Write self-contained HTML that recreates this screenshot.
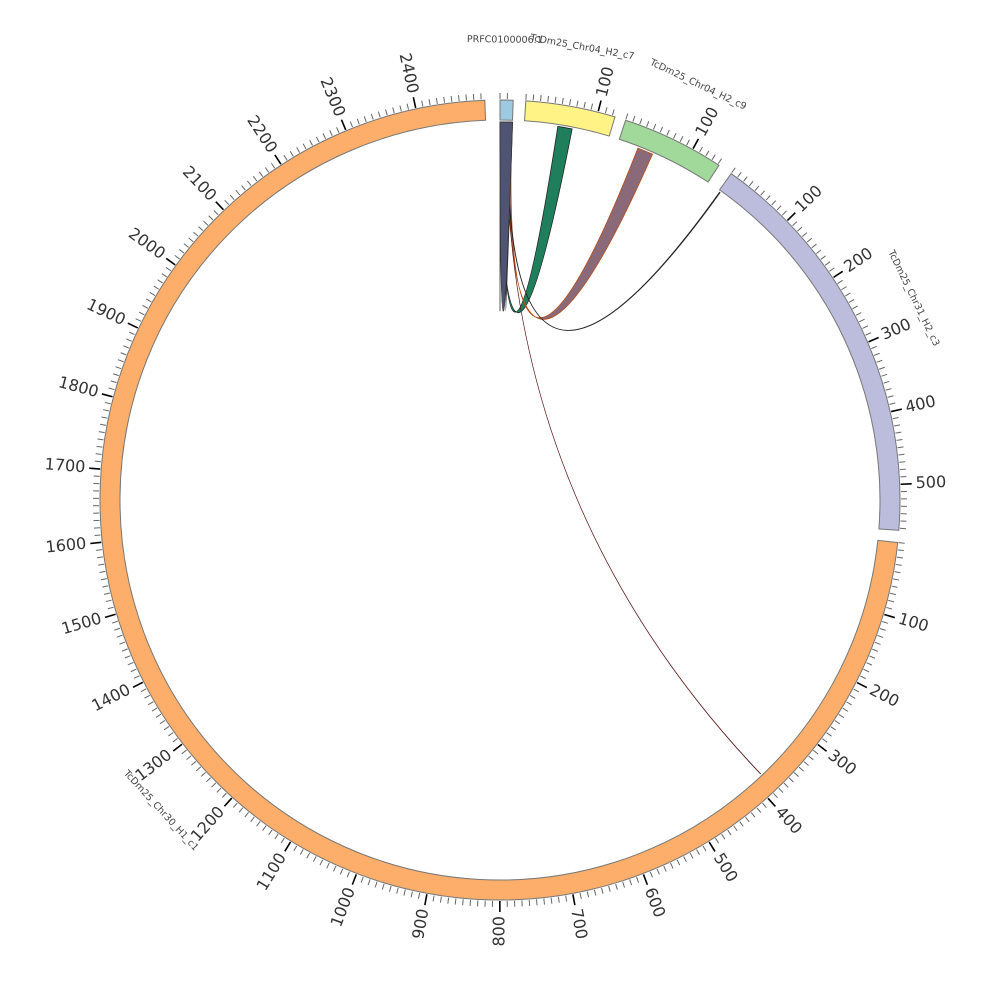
<!DOCTYPE html>
<html><head><meta charset="utf-8"><style>
html,body{margin:0;padding:0;background:#fff}
svg{display:block}
</style></head><body>
<svg id="s" width="1000" height="1000" viewBox="0 0 1000 1000" xmlns="http://www.w3.org/2000/svg"></svg>
<script>
const s=document.getElementById('s');
const C=500,R0=380,R1=400,RL=378,K=0.1049;
function pt(th,r){const a=th*Math.PI/180;return [C+r*Math.sin(a),C-r*Math.cos(a)];}
let h='';
const segs=[
 {n:'TcDm25_Chr30_H1_c1',st:96.1,len:2495,col:'#fdae6b',lab:227.5,rot:47.5},
 {n:'TcDm25_Chr31_H2_c3',st:35.3,len:563,col:'#bcbddc',lab:64,rot:64},
 {n:'TcDm25_Chr04_H2_c9',st:18.3,len:142,col:'#a1d99b',lab:25.5,rot:25.5},
 {n:'TcDm25_Chr04_H2_c7',st:3.7,len:124,col:'#fff385',lab:10.3,rot:10.3},
 {n:'PRFC0100006.1',st:0,len:18,col:'#9ecae1',lab:0.6,rot:0.6}
];
function arc(a0,a1,r0,r1){const p0=pt(a0,r1),p1=pt(a1,r1),p2=pt(a1,r0),p3=pt(a0,r0);const lg=(a1-a0)>180?1:0;
return `M${p0}A${r1},${r1} 0 ${lg} 1 ${p1}L${p2}A${r0},${r0} 0 ${lg} 0 ${p3}Z`;}
function rib(a0,a1,b0,b1,col,st,sw){const A0=pt(a0,RL),A1=pt(a1,RL),B0=pt(b0,RL),B1=pt(b1,RL);
return `<path d="M${A0}A${RL},${RL} 0 0 1 ${A1}Q${C},${C} ${B0}A${RL},${RL} 0 0 1 ${B1}Q${C},${C} ${A0}Z" fill="${col}" stroke="${st}" stroke-width="${sw||0.8}"/>`;}
h+=rib(0.3,1.9,1.6,1.9,'#505473','#333');
h+=rib(0.0,0.3,8.8,11,'#1f7f5c','#222');
h+=rib(1.4,1.8,21.4,23.8,'#8a6a78','#b84a10');
h+=rib(1.2,1.25,35.5,35.6,'#444','#222');
h+=rib(1.0,1.02,136.4,136.45,'#6a2010','#5a1a1a',0.6);
h+=rib(0.0,1.9,0.0,0.0,'#505473','#333');
for(const g of segs){
 const en=g.st+g.len*K;
 h+=`<path d="${arc(g.st,en,R0,R1)}" fill="${g.col}" stroke="#777" stroke-width="1"/>`;
 for(let u=0;u<=g.len;u+=10){const th=g.st+u*K;const maj=u%100==0&&u>0;
  const a=pt(th,R1+1),b=pt(th,R1+(maj?12:7));
  h+=`<line x1="${a[0]}" y1="${a[1]}" x2="${b[0]}" y2="${b[1]}" stroke="${maj?'#000':'#666'}" stroke-width="${maj?1.6:1}"/>`;
  if(maj){let t=((th%360)+360)%360;const p=pt(th,R1+16);let rot,anc;
   if(t<180){rot=t-90;anc='start';}else{rot=t-270;anc='end';}
   h+=`<text x="${p[0]}" y="${p[1]}" transform="rotate(${rot} ${p[0]} ${p[1]})" text-anchor="${anc}" dominant-baseline="middle" font-family="DejaVu Sans, Liberation Sans, sans-serif" font-size="16" fill="#333">${u}</text>`;}
 }
 const p=pt(g.lab,460);
 h+=`<text x="${p[0]}" y="${p[1]}" transform="rotate(${g.rot} ${p[0]} ${p[1]})" text-anchor="middle" dominant-baseline="middle" font-family="DejaVu Sans, Liberation Sans, sans-serif" font-size="9.5" fill="#444">${g.n}</text>`;
}
s.innerHTML=h;
</script>
</body></html>
